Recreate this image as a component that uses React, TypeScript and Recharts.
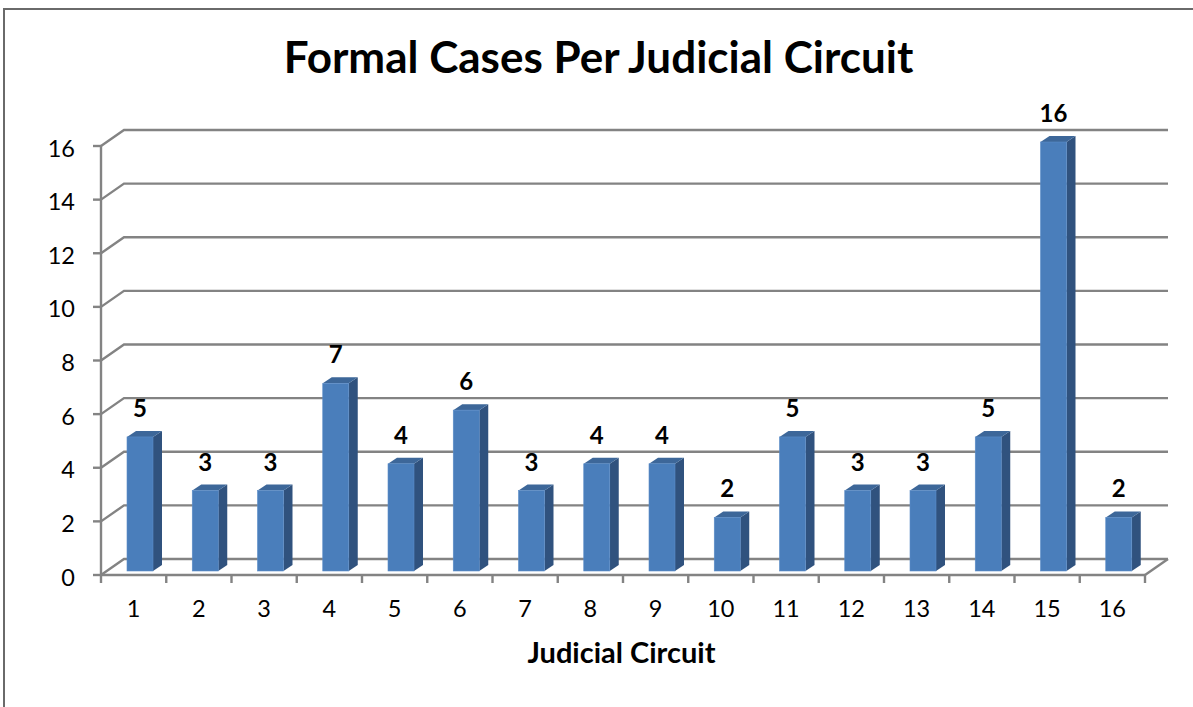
import React from 'react';
import { BarChart, Bar, XAxis, YAxis, CartesianGrid, LabelList } from 'recharts';

const categories = ['1', '2', '3', '4', '5', '6', '7', '8', '9', '10', '11', '12', '13', '14', '15', '16'];
const formalCases = [5, 3, 3, 7, 4, 6, 3, 4, 4, 2, 5, 3, 3, 5, 16, 2];
const yTicks = [0, 2, 4, 6, 8, 10, 12, 14, 16];
const chartTitle = 'Formal Cases Per Judicial Circuit';
const xAxisTitle = 'Judicial Circuit';

const data = categories.map((c, i) => ({ circuit: c, cases: formalCases[i] }));

const W = 1193;
const H = 707;
const FONT = 'Lato, "Open Sans", "DejaVu Sans", sans-serif';
const GRID = '#838383';
const GRID_W = 2.4;
const DEPTH_X = 23;
const DEPTH_Y = 16;
const BAR_DX = 6;
const BAR_DY = 4;
const SIDE_X = 9;
const SIDE_Y = 6;
const PLOT_W = 1044;
const HALF_BAND = PLOT_W / categories.length / 2;

const FRONT = '#4A7EBB';
const SIDE = '#30527E';
const TOP = '#3D6799';

const Bar3D = (props: any) => {
  const { x, y, width, height } = props;
  if (!height || height <= 0) return null;
  const fx = x + BAR_DX;
  const fy = y - BAR_DY;
  const fw = width;
  const fh = height;
  const side = `M${fx + fw},${fy} L${fx + fw + SIDE_X},${fy - SIDE_Y} L${fx + fw + SIDE_X},${fy + fh - SIDE_Y} L${fx + fw},${fy + fh} Z`;
  const top = `M${fx},${fy} L${fx + SIDE_X},${fy - SIDE_Y} L${fx + fw + SIDE_X},${fy - SIDE_Y} L${fx + fw},${fy} Z`;
  return (
    <g>
      <path d={side} fill={SIDE} />
      <path d={top} fill={TOP} />
      <rect x={fx} y={fy} width={fw} height={fh} fill={FRONT} stroke="#5B8CC8" strokeWidth={0.6} />
    </g>
  );
};

const ValueLabel = (props: any) => {
  const { x, y, width, value } = props;
  return (
    <text
      x={x + BAR_DX + width / 2}
      y={y - BAR_DY - 20}
      textAnchor="middle"
      fontFamily={FONT}
      fontWeight={700}
      fontSize={24}
      fill="#000"
    >
      {value}
    </text>
  );
};

const gridLine = (props: any) => {
  const { x1, y1, x2 } = props;
  const d = `M${x1},${y1} L${x1 + DEPTH_X},${y1 - DEPTH_Y} L${x2 + DEPTH_X},${y1 - DEPTH_Y}`;
  return <path key={`g-${y1}`} d={d} fill="none" stroke={GRID} strokeWidth={GRID_W} />;
};

const XTick = (props: any) => {
  const { x, y, payload, index } = props;
  const last = index === categories.length - 1;
  const left = x - HALF_BAND;
  const right = x + HALF_BAND;
  return (
    <g>
      <line x1={left} y1={y} x2={left} y2={y + 8} stroke={GRID} strokeWidth={GRID_W} />
      {last && <line x1={right} y1={y} x2={right} y2={y + 8} stroke={GRID} strokeWidth={GRID_W} />}
      {last && (
        <line x1={right} y1={y} x2={right + DEPTH_X} y2={y - DEPTH_Y} stroke={GRID} strokeWidth={GRID_W} />
      )}
      <text x={x} y={y + 42} textAnchor="middle" fontFamily={FONT} fontSize={23.5} fill="#000">
        {payload.value}
      </text>
    </g>
  );
};

const YTick = (props: any) => {
  const { x, y, payload } = props;
  return (
    <g>
      <line x1={x - 8} y1={y} x2={x} y2={y} stroke={GRID} strokeWidth={GRID_W} />
      <text x={x - 26} y={y + 10.5} textAnchor="end" fontFamily={FONT} fontSize={23.5} fill="#000">
        {payload.value}
      </text>
    </g>
  );
};

export default function App() {
  return (
    <div style={{ position: 'absolute', left: 0, top: 0, width: W, height: H, background: '#fff' }}>
      <BarChart
        width={W}
        height={H}
        data={data}
        margin={{ top: 146, right: 48, left: 21, bottom: 72 }}
        barSize={26}
      >
        <CartesianGrid vertical={false} horizontal={gridLine} />
        <XAxis
          dataKey="circuit"
          height={60}
          tickSize={0}
          tickMargin={0}
          tickLine={false}
          axisLine={{ stroke: GRID, strokeWidth: GRID_W }}
          tick={<XTick />}
          interval={0}
        />
        <YAxis
          width={80}
          domain={[0, 16]}
          ticks={yTicks}
          tickSize={0}
          tickMargin={0}
          tickLine={false}
          axisLine={{ stroke: GRID, strokeWidth: GRID_W }}
          tick={<YTick />}
          interval={0}
        />
        <Bar dataKey="cases" isAnimationActive={false} shape={<Bar3D />}>
          <LabelList dataKey="cases" content={<ValueLabel />} />
        </Bar>
      </BarChart>
      <svg
        width={W}
        height={H}
        style={{ position: 'absolute', left: 0, top: 0, pointerEvents: 'none' }}
      >
        <rect x={4} y={9} width={W + 10} height={H + 10} fill="none" stroke="#6a6a6a" strokeWidth={2} />
        <text x={598.5} y={73} textAnchor="middle" fontFamily={FONT} fontWeight={700} fontSize={44} fill="#000">
          {chartTitle}
        </text>
        <text x={621.5} y={663} textAnchor="middle" fontFamily={FONT} fontWeight={700} fontSize={29} fill="#000">
          {xAxisTitle}
        </text>
      </svg>
    </div>
  );
}
